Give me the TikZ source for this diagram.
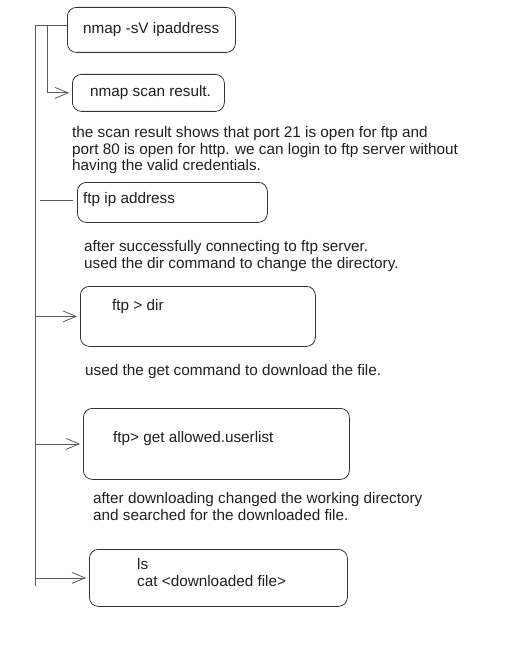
\documentclass[tikz,border=0pt]{standalone}
\usepackage{fontspec}
\setmainfont{Liberation Sans}
\usetikzlibrary{arrows.meta, positioning}

\begin{document}
\begin{tikzpicture}[
x=1pt, y=-1pt,
every node/.style={font=\fontsize{15.3}{16.8}\selectfont, text=black!88},
box/.style={
    rectangle,
    rounded corners=9pt,
    draw=black!80,
    line width=0.8pt,
    anchor=north west,
    inner sep=0pt
},
cmd/.style={
    anchor=west,
    align=left,
    inner sep=0pt
},
note/.style={
    anchor=north west,
    align=left,
    inner sep=0pt
},
link/.style={
    draw=black!65,
    line width=0.8pt
},
arrow/.style={
    link,
    -{Straight Barb[length=13pt, width=11pt]},
    shorten >=3pt
}
]

\useasboundingbox (0,0) rectangle (521,647);

\node (nmap) [box, minimum width=168pt, minimum height=45pt] at (67,7) {};
\node (nmaptxt) [cmd, right=16pt of nmap.west] {nmap -sV ipaddress};

\node (result) [box, minimum width=152pt, minimum height=37pt] at (72,74) {};
\node (resulttxt) [cmd, right=18pt of result.west] {nmap scan result.};

\node (scannote) [note] at (72,126) {the scan result shows that port 21 is open for ftp and\\
port 80 is open for http. we can login to ftp server without\\
having the valid credentials.};

\node (ftp) [box, minimum width=190pt, minimum height=40pt] at (77,182) {};
\node (ftptxt) [cmd, right=6pt of ftp.west, yshift=3pt] {ftp ip address};

\node (connnote) [note] at (84,240) {after successfully connecting to ftp server.\\
used the dir command to change the directory.};

\node (dir) [box, minimum width=235pt, minimum height=60pt] at (80,286) {};
\node (dirtxt) [cmd, right=32pt of dir.west, yshift=10pt] {ftp > dir};

\node (getnote) [note] at (85,364) {used the get command to download the file.};

\node (get) [box, minimum width=266pt, minimum height=71pt] at (83,408) {};
\node (gettxt) [cmd, right=30pt of get.west, yshift=5pt] {ftp> get allowed.userlist};

\node (lsnote) [note] at (93,492) {after downloading changed the working directory\\
and searched for the downloaded file.};

\node (ls) [box, minimum width=258pt, minimum height=57pt] at (89,549) {};
\node (lstxt) [cmd, right=48pt of ls.west, yshift=5pt] {ls\\
cat <downloaded file>};

\coordinate (top) at (35,25);
\coordinate (bottom) at (35,586);
\coordinate (fork) at (47,25);
\coordinate (stub) at (40,200);

\draw [link] (top) -- (bottom);
\draw [link] (top) -- (top -| nmap.west);
\draw [arrow] (fork) |- (result.west);
\draw [link, shorten >=4pt] (stub) -- (stub -| ftp.west);
\draw [arrow] (top |- dir.west) -- (dir.west);
\draw [arrow] (top |- get.west) -- (get.west);
\draw [arrow] (top |- ls.west) -- (ls.west);

\end{tikzpicture}
\end{document}
